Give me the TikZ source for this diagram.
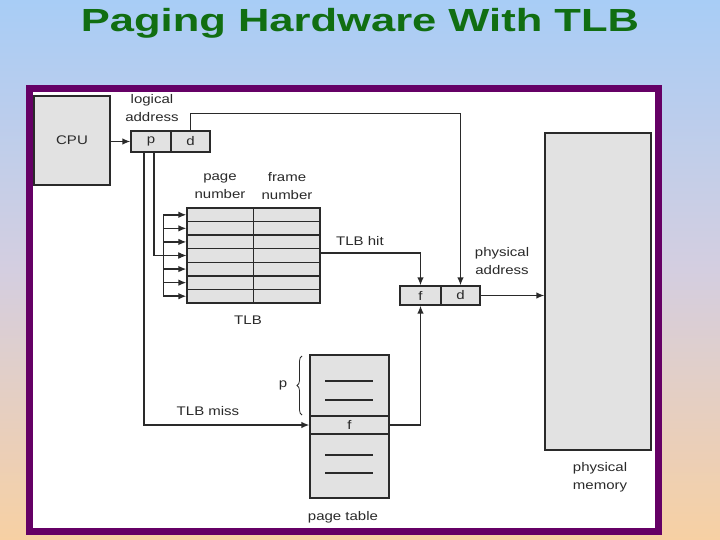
\documentclass[tikz,border=0pt]{standalone}
\usepackage{fontspec}
\setmainfont{Liberation Sans}[FakeStretch=1.2]
\newfontfamily\headfont{Liberation Sans}[FakeStretch=1.36]
\usetikzlibrary{arrows.meta,decorations.pathreplacing}
\definecolor{slidetop}{HTML}{A8CDF6}
\definecolor{slidemid}{HTML}{D4CEE0}
\definecolor{slidebot}{HTML}{F7D0A3}
\definecolor{framepurple}{HTML}{650065}
\definecolor{titlegreen}{HTML}{116E12}
\definecolor{boxfill}{HTML}{E2E2E2}
\definecolor{ink}{HTML}{2A2A2A}

\begin{document}
\begin{tikzpicture}[
  x=1pt, y=1pt,
  box/.style   = {rectangle, draw=ink, line width=1.2pt, fill=boxfill,
                  inner sep=0pt, font=\fontsize{12.5}{15}\selectfont, text=ink},
  flow/.style  = {-{Latex[length=8pt,width=6.5pt]}, draw=ink, line width=1.5pt},
  wire/.style  = {draw=ink, line width=1.5pt},
  lab/.style   = {font=\fontsize{12.5}{18}\selectfont, text=ink,
                  align=center, inner sep=0pt},
  title/.style = {font=\headfont\fontsize{32}{36}\selectfont\bfseries,
                  text=titlegreen, inner sep=0pt},
]
\shade[top color=slidetop, bottom color=slidebot, middle color=slidemid]
  (0,0) rectangle (720,-540);
\useasboundingbox (0,0) rectangle (720,-540);
\node[title] (head) at (360,-23.7) {Paging Hardware With TLB};
\draw[framepurple, line width=7pt, fill=white] (29.5,-88.5) rectangle (658.5,-531.5);
% cpu and logical address
\node[box, minimum width=76pt, minimum height=89pt] (cpu) at (72,-140.5) {CPU};
\node[box, minimum width=40pt, minimum height=21pt] (lp) at (151,-141.5) {p};
\node[box, minimum width=39pt, minimum height=21pt] (ld) at (190.5,-141.5) {d};
\node[lab] (lalab) at (152,-108) {logical\\address};
% tlb
\node[box, minimum width=133pt, minimum height=95pt] (tlb) at (253.5,-255.5) {};
\draw[ink, line width=1.1pt] (tlb.north) -- (tlb.south);
\foreach \k in {1,...,6}
  \draw[wire] (187,{-208-13.57*\k}) -- (320,{-208-13.57*\k});
\foreach \k in {1,...,7}
  \coordinate (row\k) at (tlb.west |- 0,{-208-13.57*(\k-0.5)});
\node[lab] (pnlab) at (220,-186) {page\\number};
\node[lab] (fnlab) at (287,-186) {frame\\number};
\node[lab] (tlblab) at (248,-320) {TLB};
% page table
\node[box, minimum width=79pt, minimum height=143pt] (pt) at (349.5,-426.5) {};
\node[box, minimum width=79pt, minimum height=18pt] (ptf) at (349.5,-425) {f};
\foreach \y in {381,400,455,473}
  \draw[ink, line width=1.1pt] (325,-\y) -- (373,-\y);
\draw[decorate, decoration={brace, amplitude=5pt}, draw=ink, line width=0.8pt]
  (302,-415) -- (302,-356);
\node[lab] (plab) at (283,-385) {p};
\node[lab] (ptlab) at (343,-517) {page table};
% physical address and memory
\node[box, minimum width=41pt, minimum height=19pt] (pf) at (420.5,-295.5) {f};
\node[box, minimum width=39pt, minimum height=19pt] (pd) at (460.5,-295.5) {d};
\node[box, minimum width=106pt, minimum height=317pt] (mem) at (598,-291.5) {};
\node[lab] (palab) at (502,-261) {physical\\address};
\node[lab] (pmlab) at (600,-477) {physical\\memory};
% connectors
\draw[flow] (cpu.east |- lp.west) -- (lp.west);
\draw[flow] (ld.north) -- ++(0,17) -| (pd.north);
\draw[wire] ([xshift=-23pt]row1) -- ([xshift=-23pt]row7);
\foreach \k in {1,...,7}
  \draw[flow] ([xshift=-23pt]row\k) -- (row\k);
\draw[flow] ([xshift=3pt]lp.south) |- (row4);
\draw[flow] ([xshift=-7pt]lp.south) |- (ptf.west);
\node[lab] (misslab) at (208,-411) {TLB miss};
\draw[flow] (tlb.east |- 0,-253) -| (pf.north);
\node[lab] (hitlab) at (360,-241) {TLB hit};
\draw[flow] (ptf.east) -| (pf.south);
\draw[flow] (pd.east) -- (pd.east -| mem.west);
\end{tikzpicture}
\end{document}
